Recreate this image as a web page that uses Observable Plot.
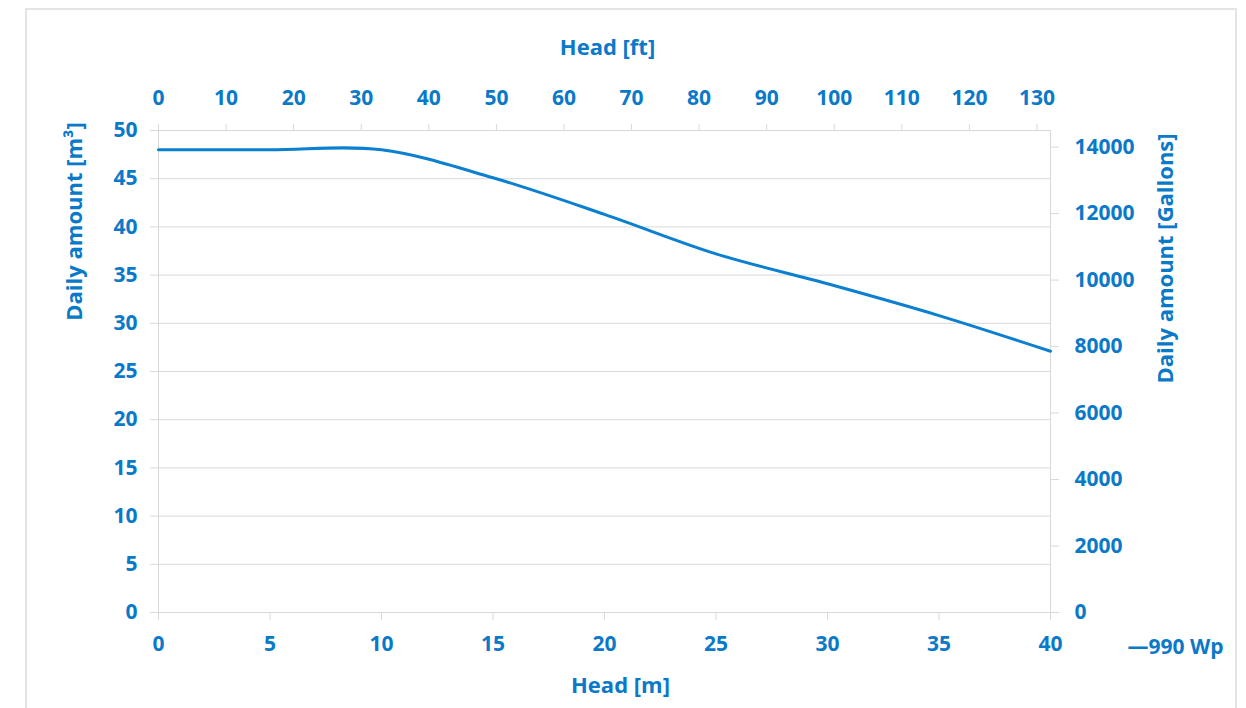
<!DOCTYPE html>
<html>
<head>
<meta charset="utf-8">
<script src="https://cdn.jsdelivr.net/npm/d3@7"></script>
<script src="https://cdn.jsdelivr.net/npm/@observablehq/plot@0.6"></script>
<style>
  html, body { margin: 0; padding: 0; background: #fff; }
  #wrap { position: relative; width: 1246px; height: 708px; overflow: hidden; }
  #box { position: absolute; left: 25px; top: 8px; width: 1212px; height: 740px; border: 2px solid #e4e4e4; box-sizing: border-box; }
  #chart { position: absolute; left: 0; top: 0; }
  #chart svg { background: transparent; }
</style>
</head>
<body>
<div id="wrap"><div id="box"></div><div id="chart"></div></div>
<script>
// Data
const headM = [0, 5, 10, 15, 20, 25, 30, 35, 40];
const dailyM3 = [48.0, 48.0, 48.0, 45.1, 41.3, 37.2, 34.1, 30.8, 27.1];
const m3Ticks = [0, 5, 10, 15, 20, 25, 30, 35, 40, 45, 50];
const headMTicks = [0, 5, 10, 15, 20, 25, 30, 35, 40];
const ftTicks = [0, 10, 20, 30, 40, 50, 60, 70, 80, 90, 100, 110, 120, 130];
const gallonTicks = [0, 2000, 4000, 6000, 8000, 10000, 12000, 14000];
const ftAxisMax = 132;      // secondary x axis max (ft) aligned to 40 m
const gallonAxisMax = 14500; // secondary y axis max (gallons) aligned to 50 m³
const seriesName = "990 Wp";

const blue = "#0a79c9";
const lineBlue = "#0b7fd0";
const grey = "#d9d9d9";

const data = headM.map((h, i) => ({head: h, amount: dailyM3[i]}));
const ftToM = f => f * 40 / ftAxisMax;
const galToM3 = g => g * 50 / gallonAxisMax;

const tickFont = 21;
const titleFont = 22;

const chart = Plot.plot({
  width: 1246,
  height: 708,
  marginLeft: 158,
  marginRight: 196,
  marginTop: 130,
  marginBottom: 96,
  style: {fontFamily: "'Open Sans', sans-serif", fontSize: tickFont + "px", fontWeight: 700, background: "transparent", color: blue},
  x: {domain: [0, 40]},
  y: {domain: [0, 50]},
  marks: [
    Plot.gridY(m3Ticks, {stroke: grey, strokeOpacity: 1, strokeWidth: 1}),
    Plot.ruleX([0, 40], {stroke: grey, strokeWidth: 1}),
    Plot.axisY(m3Ticks, {anchor: "left", tickSize: 8, tickPadding: 13, stroke: grey, strokeOpacity: 1, fill: blue, label: null, fontSize: tickFont}),
    Plot.axisY(gallonTicks.map(galToM3), {anchor: "right", tickSize: 8, tickPadding: 16, stroke: grey, strokeOpacity: 1, fill: blue, label: null, fontSize: tickFont,
      tickFormat: d => String(Math.round(d * gallonAxisMax / 50))}),
    Plot.axisX(headMTicks, {anchor: "bottom", tickSize: 8, tickPadding: 16, stroke: grey, strokeOpacity: 1, fill: blue, label: null, fontSize: tickFont}),
    Plot.axisX(ftTicks.map(ftToM), {anchor: "top", tickSize: 7, tickPadding: 19, stroke: grey, strokeOpacity: 1, fill: blue, label: null, fontSize: tickFont,
      tickFormat: d => String(Math.round(d * ftAxisMax / 40))}),
    Plot.line(data, {x: "head", y: "amount", stroke: lineBlue, strokeWidth: 3, curve: "cardinal", tension: 0}),
    Plot.text(["Head [ft]"], {frameAnchor: "top", textAnchor: "middle", lineAnchor: "middle", dx: 3, dy: -83, fill: blue, fontSize: titleFont, fontWeight: 700}),
    Plot.text(["Head [m]"], {frameAnchor: "bottom", textAnchor: "middle", lineAnchor: "middle", dx: 16, dy: 73, fill: blue, fontSize: titleFont, fontWeight: 700}),
    Plot.text(["Daily amount [m³]"], {frameAnchor: "left", textAnchor: "middle", lineAnchor: "middle", rotate: -90, dx: -84, dy: -150, fill: blue, fontSize: titleFont, fontWeight: 700}),
    Plot.text(["Daily amount [Gallons]"], {frameAnchor: "right", textAnchor: "middle", lineAnchor: "middle", rotate: -90, dx: 115, dy: -113, fill: blue, fontSize: titleFont, fontWeight: 700}),
    Plot.text(["—" + seriesName], {frameAnchor: "bottom-right", textAnchor: "start", lineAnchor: "middle", dx: 77, dy: 35, fill: blue, fontSize: tickFont, fontWeight: 700})
  ]
});
document.getElementById("chart").appendChild(chart);
</script>
</body>
</html>
